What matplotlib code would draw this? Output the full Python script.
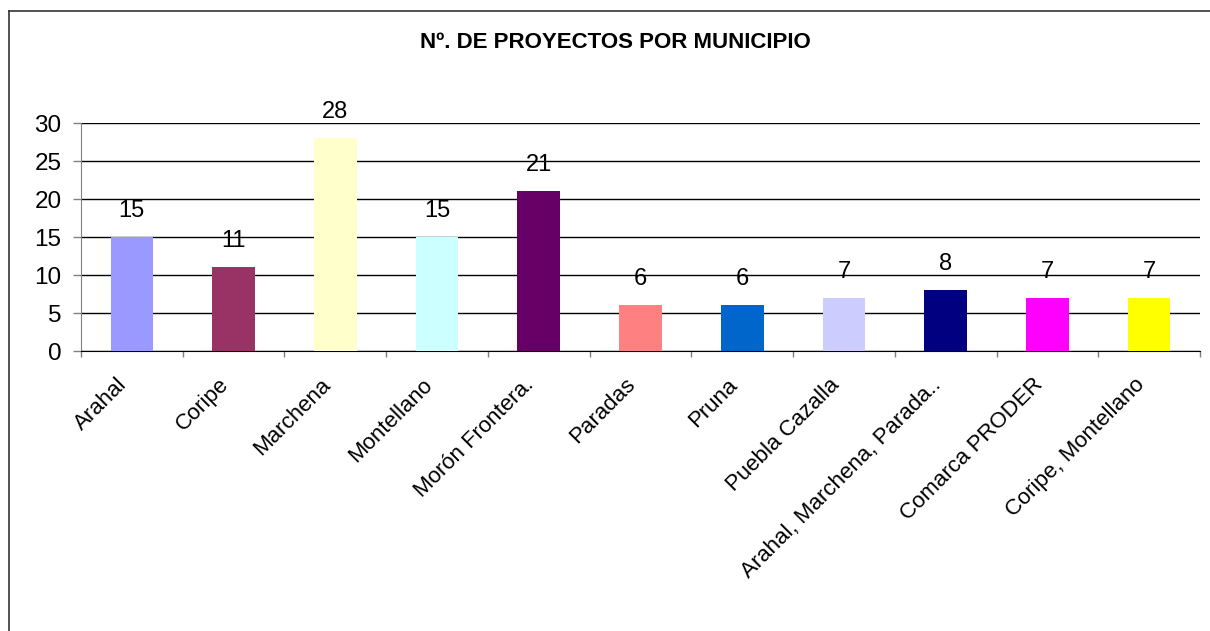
import numpy as np
import matplotlib
matplotlib.use('Agg')
import matplotlib.pyplot as plt
import matplotlib.transforms as mtransforms
from matplotlib.lines import Line2D

plt.rcParams['font.family'] = ['Liberation Sans', 'DejaVu Sans']

# data
municipios = ['Arahal', 'Coripe', 'Marchena', 'Montellano', 'Morón Frontera.', 'Paradas',
              'Pruna', 'Puebla Cazalla', 'Arahal, Marchena, Parada..', 'Comarca PRODER',
              'Coripe, Montellano']
proyectos = [15, 11, 28, 15, 21, 6, 6, 7, 8, 7, 7]
colores = ['#9999FF', '#993366', '#FFFFCC', '#CCFFFF', '#660066', '#FF8080',
           '#0066CC', '#CCCCFF', '#000080', '#FF00FF', '#FFFF00']

fig = plt.figure(figsize=(12.1, 6.31), dpi=100)
ax = fig.add_axes([81/1210, 1-351/631, (1200-81)/1210, (351-123)/631])

x = np.arange(len(municipios))
bars = ax.bar(x, proyectos, width=0.42, color=colores, zorder=3)
for xi, v in zip(x, proyectos):
    ax.annotate(str(v), (xi, v), xytext=(0, 14.5), textcoords='offset points',
                ha='center', va='baseline', fontsize=17)

ax.set_xlim(-0.5, len(municipios) - 0.5)
ax.set_ylim(0, 30)
ax.set_yticks(range(0, 31, 5))
ax.yaxis.grid(True, color='black', linewidth=1, zorder=0)
ax.tick_params(axis='y', labelsize=17.5, length=6, width=1, color='#808080', pad=8)

ax.set_xticks(x)
ax.set_xticklabels(municipios, rotation=45, ha='right', va='center', rotation_mode='anchor', fontsize=16)
ax.set_xticks(np.arange(-0.5, len(municipios)), minor=True)
ax.tick_params(axis='x', which='major', length=0, pad=22)
ax.tick_params(axis='x', which='minor', length=4, width=1, color='#808080')
shift = mtransforms.ScaledTranslation(-8/100, 0, fig.dpi_scale_trans)
for lab in ax.get_xticklabels():
    lab.set_transform(lab.get_transform() + shift)

for s in ['top', 'right']:
    ax.spines[s].set_visible(False)
ax.spines['left'].set_color('#808080')
ax.spines['bottom'].set_color('black')

fig.text(615/1210, 1-43/631, 'Nº. DE PROYECTOS POR MUNICIPIO', ha='center', va='center',
         fontsize=16, fontweight='bold')

# chart border
fig.add_artist(Line2D([9/1210, 9/1210], [0, 1-11/631], color='#333333', linewidth=1.2))
fig.add_artist(Line2D([9/1210, 1], [1-11/631, 1-11/631], color='#333333', linewidth=1.2))

fig.savefig('out.png', dpi=100, facecolor='white')
